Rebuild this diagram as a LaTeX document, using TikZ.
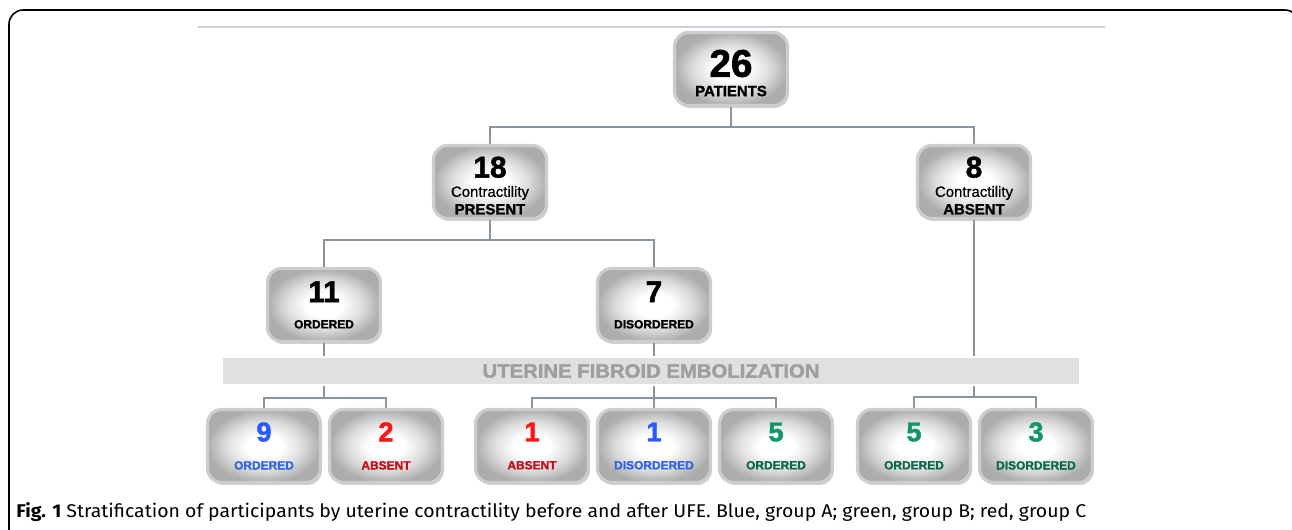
\documentclass[tikz,border=0pt]{standalone}
\usepackage{fontspec}
\setmainfont{Liberation Sans}
\newfontfamily\heavy[FakeBold=1.6]{Liberation Sans Bold}
\newfontfamily\semi[FakeBold=0.8]{Liberation Sans}
\newfontfamily\capfont{Fira Sans}
\usetikzlibrary{calc,positioning,shadows}
\definecolor{linegray}{RGB}{138,148,158}
\definecolor{toplinegray}{RGB}{200,208,216}
\definecolor{boxrim}{RGB}{205,205,208}
\definecolor{barfill}{RGB}{224,224,224}
\definecolor{bartext}{RGB}{158,158,158}
\definecolor{nblue}{RGB}{40,90,255}
\definecolor{lblue}{RGB}{50,100,235}
\definecolor{nred}{RGB}{255,20,20}
\definecolor{lred}{RGB}{195,15,25}
\definecolor{ngreen}{RGB}{15,150,105}
\definecolor{lgreen}{RGB}{10,105,75}
\pgfdeclareradialshading{boxshade}{\pgfpoint{0bp}{0bp}}{color(0bp)=(white); color(8bp)=(white); color(17bp)=(black!14); color(25bp)=(black!32); color(50bp)=(black!36)}

\begin{document}
\begin{tikzpicture}[x=0.02cm,y=-0.02cm]
\tikzstyle{box}=[rectangle, rounded corners=8pt, minimum width=2.26cm, minimum height=1.46cm, inner sep=0pt, align=center, draw=boxrim, line width=1.8pt, shading=boxshade, drop shadow={shadow xshift=0.8pt, shadow yshift=-1.4pt, opacity=0.35}]
\tikzstyle{conn}=[draw=linegray, line width=1.5pt]
\tikzstyle{bar}=[rectangle, minimum width=17.16cm, minimum height=0.56cm, fill=barfill, draw=white, line width=0.8pt, drop shadow={shadow xshift=0.6pt, shadow yshift=-0.8pt, opacity=0.3}, text=bartext, font=\fontsize{11}{11}\heavy]
\useasboundingbox (0,0) rectangle (1292,530);
% frame and top line
\draw[line width=0.9pt, rounded corners=8pt] (9,560) -- (9,10) -- (1299,10) -- (1299,560);
\draw[toplinegray, line width=1.2pt] (198,27) -- (1105,27);
% tree
\node[box] (n26) at (731,69) {\fontsize{22}{22}\heavy\rule{0pt}{20pt}26\\[-1pt]\fontsize{8.5}{9}\heavy PATIENTS};
\node[box] (n18) at (490,182) {\fontsize{17}{17}\heavy\rule{0pt}{16pt}18\\[-1pt]\fontsize{8.5}{8.5}\semi Contractility\\[-2pt]\fontsize{8.5}{8.5}\heavy PRESENT};
\node[box] (n8) at (974,182) {\fontsize{17}{17}\heavy\rule{0pt}{16pt}8\\[-1pt]\fontsize{8.5}{8.5}\semi Contractility\\[-2pt]\fontsize{8.5}{8.5}\heavy ABSENT};
\node[box] (n11) at (324,305) {\fontsize{17}{17}\heavy 11\\[3pt]\fontsize{6.8}{7}\heavy ORDERED};
\node[box] (n7) at (654,305) {\fontsize{17}{17}\heavy 7\\[3pt]\fontsize{6.8}{7}\heavy DISORDERED};
\foreach \name/\x/\n/\lab/\c in {b9/264/9/ORDERED/blue, b2/386/2/ABSENT/red, b1a/532/1/ABSENT/red, b1d/654/1/DISORDERED/blue, b5a/776/5/ORDERED/green, b5b/914/5/ORDERED/green, b3/1036/3/DISORDERED/green}{
\node[box] (\name) at (\x,446) {\textcolor{n\c}{\fontsize{15.5}{15.5}\heavy \n}\\[4pt]\textcolor{l\c}{\fontsize{6.8}{7}\heavy \lab}};
}
\draw[conn] (n26.south) -- ++(0,20) -| (n18.north);
\draw[conn] (n26.south) -- ++(0,20) -| (n8.north);
\draw[conn] (n18.south) -- ++(0,20) -| (n11.north);
\draw[conn] (n18.south) -- ++(0,20) -| (n7.north);
\draw[conn] (n11.south) -- ++(0,55) -| (b9.north);
\draw[conn] (n11.south) -- ++(0,55) -| (b2.north);
\draw[conn] (n7.south) -- ++(0,55) -| (b1a.north);
\draw[conn] (n7.south) -- (b1d.north);
\draw[conn] (n7.south) -- ++(0,55) -| (b5a.north);
\draw[conn] (n8.south) -- ++(0,177) -| (b5b.north);
\draw[conn] (n8.south) -- ++(0,177) -| (b3.north);
\node[bar] (ufe) at (651,371) {\resizebox{6.74cm}{\height}{UTERINE FIBROID EMBOLIZATION}};
% caption
\node[anchor=base west, inner sep=0pt] (cap) at (16,517) {\resizebox{21.4cm}{\height}{\capfont\fontsize{10.5}{12}\selectfont\textbf{Fig. 1} Stratification of participants by uterine contractility before and after UFE. Blue, group A; green, group B; red, group C}};
\end{tikzpicture}
\end{document}
